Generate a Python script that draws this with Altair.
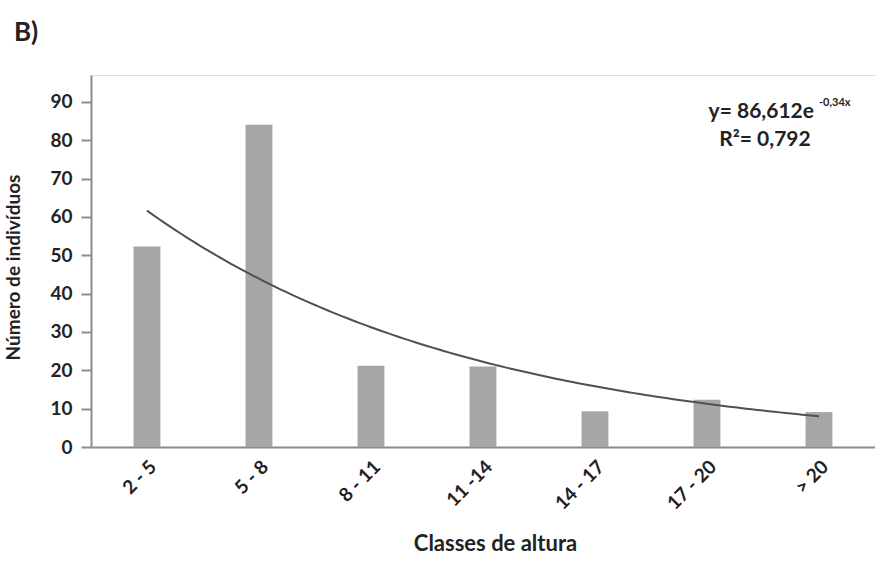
import altair as alt
import pandas as pd

# Height classes and number of individuals per class
classes = ["2 - 5", "5 - 8", "8 - 11", "11 -14", "14 - 17", "17 - 20", "> 20"]
counts = [52.3, 84.0, 21.2, 21.0, 9.3, 12.3, 9.1]

# Exponential trend: y = a * e^(b x), x = class index 1..7
trend_a = 86.612
trend_b = -0.34

FONT = "Lato"
INK = "#222222"
AXIS_GREY = "#8c8c8c"
W, H = 784, 372
Y_DOMAIN = [0, 97]

df = pd.DataFrame({"classe": classes, "n": counts})

y_axis = alt.Axis(
    title="Número de indivíduos",
    titleFont=FONT,
    titleFontSize=19,
    titleFontWeight="bold",
    titleColor=INK,
    titleX=-68,
    titleY=192,
    values=list(range(0, 100, 10)),
    labelFont=FONT,
    labelFontSize=19,
    labelFontWeight="bold",
    labelColor=INK,
    labelPadding=9,
    tickSize=10,
    tickColor=AXIS_GREY,
    tickWidth=2,
    domainColor=AXIS_GREY,
    domainWidth=2,
    grid=False,
)

bars = alt.Chart(df).mark_bar(color="#a6a6a8").encode(
    x=alt.X(
        "classe:N",
        sort=classes,
        scale=alt.Scale(paddingInner=0.76, paddingOuter=0.38),
        axis=alt.Axis(
            title="Classes de altura",
            titleFont=FONT,
            titleFontSize=22,
            titleFontWeight="bold",
            titleColor=INK,
            titleX=404,
            titleY=86,
            labelAngle=-45,
            labelFont=FONT,
            labelFontSize=19,
            labelFontWeight="bold",
            labelColor=INK,
            labelPadding=10,
            ticks=False,
            domainColor=AXIS_GREY,
            domainWidth=2,
        ),
    ),
    y=alt.Y("n:Q", scale=alt.Scale(domain=Y_DOMAIN, nice=False), axis=y_axis),
)

curve = (
    alt.Chart(alt.sequence(1, 7.001, 0.05, as_="x"))
    .transform_calculate(y=f"{trend_a} * exp({trend_b} * datum.x)")
    .mark_line(color="#505050", strokeWidth=2)
    .encode(
        x=alt.X("x:Q", scale=alt.Scale(domain=[0.5, 7.5], nice=False, zero=False), axis=None),
        y=alt.Y("y:Q", scale=alt.Scale(domain=Y_DOMAIN, nice=False), axis=y_axis),
    )
)

def label(text, x, y, size, align="left"):
    return alt.Chart(alt.Data(values=[{}])).mark_text(
        text=text, font=FONT, fontSize=size, fontWeight="bold",
        color=INK, align=align, baseline="middle",
    ).encode(x=alt.value(x), y=alt.value(y))

annotations = (
    label("y= 86,612e", 723, 37, 21, "right")
    + label("-0,34x", 728, 28, 11)
    + label("R²= 0,792", 674, 65, 21, "center")
    + label("B)", -65, -42, 26, "center")
)

chart = (
    alt.layer(bars, curve, annotations)
    .resolve_scale(x="independent")
    .properties(
        width=W,
        height=H,
        autosize=alt.AutoSizeParams(type="none"),
        padding={"left": 91, "top": 75, "right": 0, "bottom": 130},
    )
    .configure_view(strokeWidth=0)
    .configure(background="white")
)

chart.save("out.html", embed_options={"renderer": "svg", "actions": False})
